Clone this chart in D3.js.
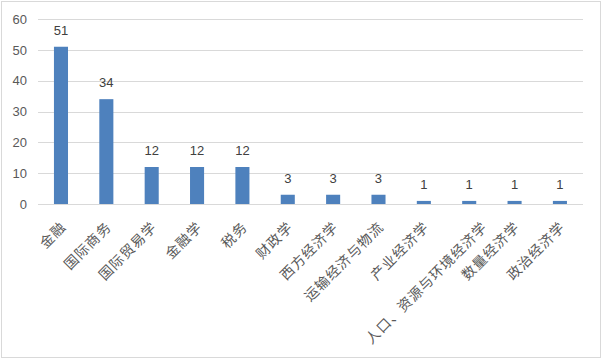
<!DOCTYPE html>
<html><head><meta charset="utf-8">
<script src="https://cdn.jsdelivr.net/npm/d3@7"></script>
<style>body{margin:0;background:#fff;} text{font-family:"Noto Sans CJK SC","Noto Sans",sans-serif;}</style>
</head><body>
<svg id="c" width="602" height="359"></svg>
<script>
const categories = ["金融","国际商务","国际贸易学","金融学","税务","财政学","西方经济学","运输经济与物流","产业经济学","人口、资源与环境经济学","数量经济学","政治经济学"];
const values = [51,34,12,12,12,3,3,3,1,1,1,1];
const yTicks = [0,10,20,30,40,50,60];

const svg = d3.select("#c");
svg.append("rect").attr("x",1.5).attr("y",1.5).attr("width",599).attr("height",356)
  .attr("fill","#fff").attr("stroke","#d9d9d9").attr("stroke-width",1);

const x = d3.scaleBand().domain(categories).range([38.3,582.6]).paddingInner(0.69).paddingOuter(0.345);
const y = d3.scaleLinear().domain([0,60]).range([204,19]);

const grid = svg.append("g");
grid.selectAll("line").data(yTicks).join("line")
  .attr("x1",38).attr("x2",583)
  .attr("y1",d=>Math.round(y(d))+0.5).attr("y2",d=>Math.round(y(d))+0.5)
  .attr("stroke","#d9d9d9").attr("stroke-width",1);

const yAxis = d3.axisLeft(y).tickValues(yTicks).tickSize(0).tickPadding(11);
const ya = svg.append("g").attr("transform","translate(38,0)").call(yAxis);
ya.select(".domain").remove();
ya.selectAll("text").attr("fill","#595959").style("font-size","13px").style("font-family","Liberation Sans, sans-serif");

svg.append("g").selectAll("rect").data(values).join("rect")
  .attr("x",(d,i)=>x(categories[i]))
  .attr("width",x.bandwidth())
  .attr("y",d=>y(d))
  .attr("height",d=>y(0)-y(d))
  .attr("fill","#4e81bd");

svg.append("g").selectAll("text").data(values).join("text")
  .attr("x",(d,i)=>x(categories[i])+x.bandwidth()/2)
  .attr("y",d=>y(d)-12)
  .attr("text-anchor","middle")
  .attr("fill","#404040")
  .style("font-size","13px")
  .style("font-family","Liberation Sans, sans-serif")
  .text(d=>d);

const xa = svg.append("g");
xa.selectAll("text").data(categories).join("text")
  .attr("transform",d=>`translate(${x(d)+x.bandwidth()/2+6+(d.length>10?13:0)},${228}) rotate(-45)`)
  .attr("text-anchor","end")
  .attr("fill","#595959")
  .style("font-size","14px")
  .style("letter-spacing","1px")
  .text(d=>d);
</script>
</body></html>
